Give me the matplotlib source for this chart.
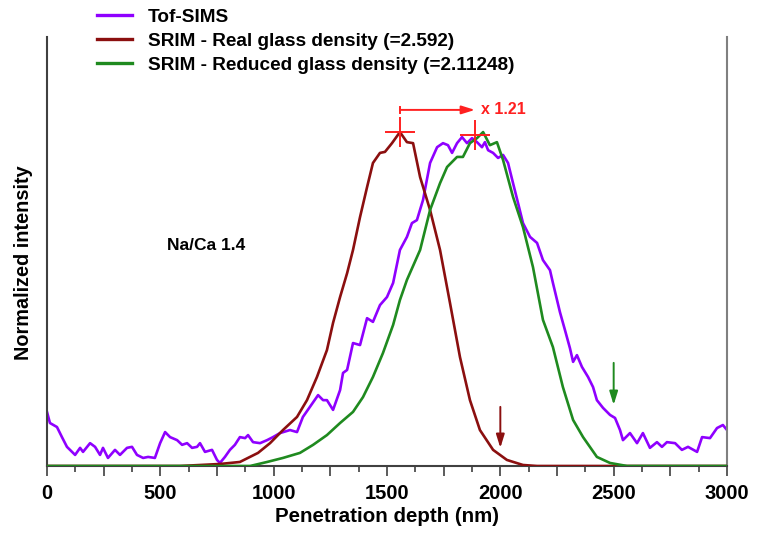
import numpy as np
import matplotlib
matplotlib.use('Agg')
import matplotlib.pyplot as plt
from matplotlib.ticker import MultipleLocator, FuncFormatter
from matplotlib.lines import Line2D

plt.rcParams['font.family'] = ['Liberation Sans', 'DejaVu Sans']
plt.rcParams['font.weight'] = 'bold'

# Tof-SIMS profile (normalized intensity vs depth, nm)
sims_x = [0, 13, 44, 66, 88, 124, 146, 159, 190, 212, 234, 247, 269, 300, 322, 353,
          375, 397, 424, 446, 476, 499, 521, 543, 574, 596, 618, 640, 662, 675, 697,
          728, 750, 763, 785, 807, 829, 851, 874, 887, 909, 940, 971, 997, 1028, 1072,
          1103, 1129, 1160, 1196, 1218, 1235, 1262, 1293, 1306, 1324, 1350, 1381, 1412,
          1438, 1469, 1500, 1527, 1557, 1588, 1610, 1632, 1659, 1690, 1721, 1747, 1769,
          1787, 1809, 1831, 1853, 1875, 1897, 1919, 1932, 1946, 1968, 1990, 2012, 2034,
          2056, 2078, 2100, 2131, 2162, 2188, 2219, 2232, 2263, 2285, 2307, 2321, 2338,
          2360, 2387, 2409, 2426, 2453, 2484, 2506, 2528, 2541, 2572, 2603, 2629, 2660,
          2691, 2713, 2735, 2771, 2801, 2828, 2868, 2890, 2925, 2956, 2982, 3000]
sims_y = [0.161, 0.128, 0.116, 0.086, 0.057, 0.033, 0.054, 0.042, 0.068, 0.057, 0.033,
          0.054, 0.024, 0.048, 0.033, 0.054, 0.057, 0.033, 0.024, 0.027, 0.024, 0.068,
          0.101, 0.086, 0.077, 0.063, 0.068, 0.054, 0.057, 0.068, 0.042, 0.048, 0.018,
          0.009, 0.027, 0.048, 0.063, 0.086, 0.083, 0.092, 0.071, 0.068, 0.077, 0.086,
          0.098, 0.107, 0.101, 0.146, 0.176, 0.211, 0.196, 0.196, 0.167, 0.226, 0.277,
          0.286, 0.366, 0.360, 0.440, 0.429, 0.479, 0.503, 0.545, 0.643, 0.682, 0.723,
          0.732, 0.792, 0.902, 0.949, 0.961, 0.955, 0.932, 0.961, 0.979, 0.961, 0.976,
          0.964, 0.949, 0.964, 0.940, 0.932, 0.917, 0.926, 0.902, 0.842, 0.783, 0.723,
          0.682, 0.664, 0.613, 0.583, 0.545, 0.458, 0.405, 0.351, 0.310, 0.330, 0.295,
          0.265, 0.235, 0.196, 0.173, 0.152, 0.143, 0.107, 0.077, 0.098, 0.068, 0.098,
          0.054, 0.071, 0.057, 0.071, 0.068, 0.048, 0.057, 0.042, 0.086, 0.083, 0.113,
          0.122, 0.107]

# SRIM, real glass density
real_x = [0, 587, 675, 763, 851, 931, 984, 1041, 1103, 1147, 1191, 1235, 1262, 1293,
          1324, 1350, 1381, 1412, 1438, 1469, 1491, 1522, 1557, 1588, 1615, 1646, 1690,
          1734, 1778, 1822, 1866, 1910, 1968, 2029, 2100, 2162, 3000]
real_y = [0, 0, 0.003, 0.006, 0.012, 0.039, 0.068, 0.107, 0.146, 0.196, 0.265, 0.345,
          0.426, 0.503, 0.574, 0.643, 0.741, 0.830, 0.902, 0.932, 0.935, 0.961, 0.994,
          0.964, 0.961, 0.860, 0.762, 0.643, 0.485, 0.324, 0.196, 0.107, 0.048, 0.018,
          0.003, 0, 0]

# SRIM, reduced glass density
red_x = [0, 807, 896, 971, 1041, 1116, 1174, 1235, 1293, 1350, 1394, 1438, 1482, 1527,
         1557, 1588, 1646, 1690, 1734, 1765, 1809, 1835, 1866, 1897, 1924, 1954, 1985,
         2012, 2056, 2100, 2144, 2188, 2232, 2276, 2321, 2365, 2426, 2484, 2559, 3000]
red_y = [0, 0, 0.0, 0.012, 0.024, 0.039, 0.063, 0.092, 0.128, 0.161, 0.205, 0.265,
         0.336, 0.42, 0.494, 0.554, 0.643, 0.762, 0.842, 0.890, 0.920, 0.920, 0.961,
         0.976, 0.994, 0.955, 0.964, 0.911, 0.801, 0.711, 0.592, 0.435, 0.354, 0.235,
         0.137, 0.086, 0.027, 0.009, 0, 0]

# peak positions and projected-range arrows
peak_x = [1557, 1888]
peak_y = [0.994, 0.985]
shift_y = 1.06
range_real = (2000, 0.176, 0.054)
range_reduced = (2500, 0.307, 0.182)

c_sims = '#8F00FF'
c_real = '#8B0F0F'
c_red = '#1F8A1F'
c_mark = '#FF2020'

fig = plt.figure(figsize=(7.59, 5.39), dpi=100)
ax = fig.add_axes([47 / 759, 1 - 466 / 539, 680 / 759, 429 / 539])

ax.plot(real_x, real_y, color=c_real, lw=1.9, zorder=3)
ax.plot(red_x, red_y, color=c_red, lw=1.9, zorder=3)
ax.plot(sims_x, sims_y, color=c_sims, lw=1.9, zorder=2)

ax.plot(peak_x, peak_y, ls='none', marker='+', ms=21, mew=1.4, color=c_mark, zorder=5)
ax.annotate('', xy=(peak_x[1], shift_y), xytext=(peak_x[0], shift_y),
            arrowprops=dict(arrowstyle='-|>,head_length=0.8,head_width=0.25',
                            color=c_mark, lw=1.4, shrinkA=0, shrinkB=0))
ax.plot([peak_x[0], peak_x[0]], [shift_y - 0.01, shift_y + 0.01], color=c_mark, lw=1.4)
ax.text(peak_x[1] + 25, shift_y, 'x 1.21', color=c_mark, fontsize=11.5,
        fontweight='bold', va='center', ha='left')

for (xa, y0, y1), col in [(range_real, c_real), (range_reduced, c_red)]:
    ax.annotate('', xy=(xa, y1), xytext=(xa, y0),
                arrowprops=dict(arrowstyle='-|>,head_length=0.8,head_width=0.25',
                                color=col, lw=1.4, shrinkA=0, shrinkB=0))

ax.text(530, 0.655, 'Na/Ca 1.4', fontsize=12.5, fontweight='bold', va='center')

ax.set_xlim(0, 3000)
ax.set_ylim(0, 1.277)
ax.set_yticks([])
ax.xaxis.set_major_locator(MultipleLocator(250))
ax.xaxis.set_minor_locator(MultipleLocator(125))
ax.xaxis.set_major_formatter(FuncFormatter(lambda v, p: f'{v:.0f}' if v % 500 == 0 else ''))
ax.tick_params(axis='x', which='major', length=7, width=1.2, pad=6, labelsize=14.5,
               color='#404040')
ax.tick_params(axis='x', which='minor', length=4, width=1.2, color='#404040')

ax.spines['top'].set_visible(False)
ax.spines['left'].set_color('#404040')
ax.spines['right'].set_color('#808080')
ax.spines['bottom'].set_color('#404040')
for s in ['left', 'right', 'bottom']:
    ax.spines[s].set_linewidth(1.5)

ax.set_xlabel('Penetration depth (nm)', fontsize=14.8, fontweight='bold', labelpad=3)
ax.set_ylabel('Normalized intensity', fontsize=14.3, fontweight='bold')
ax.yaxis.set_label_coords(-0.021, 0.473)

handles = [Line2D([], [], color=c_sims, lw=2.4),
           Line2D([], [], color=c_real, lw=2.4),
           Line2D([], [], color=c_red, lw=2.4)]
labels = ['Tof-SIMS', 'SRIM - Real glass density (=2.592)',
          'SRIM - Reduced glass density (=2.11248)']
fig.legend(handles, labels, loc='upper left', bbox_to_anchor=(97 / 759, 1 - 8.5 / 539),
           frameon=False, fontsize=13.7, borderpad=0, borderaxespad=0,
           handlelength=1.84, handletextpad=0.84, labelspacing=0.36)

fig.savefig('out.png', dpi=100)
